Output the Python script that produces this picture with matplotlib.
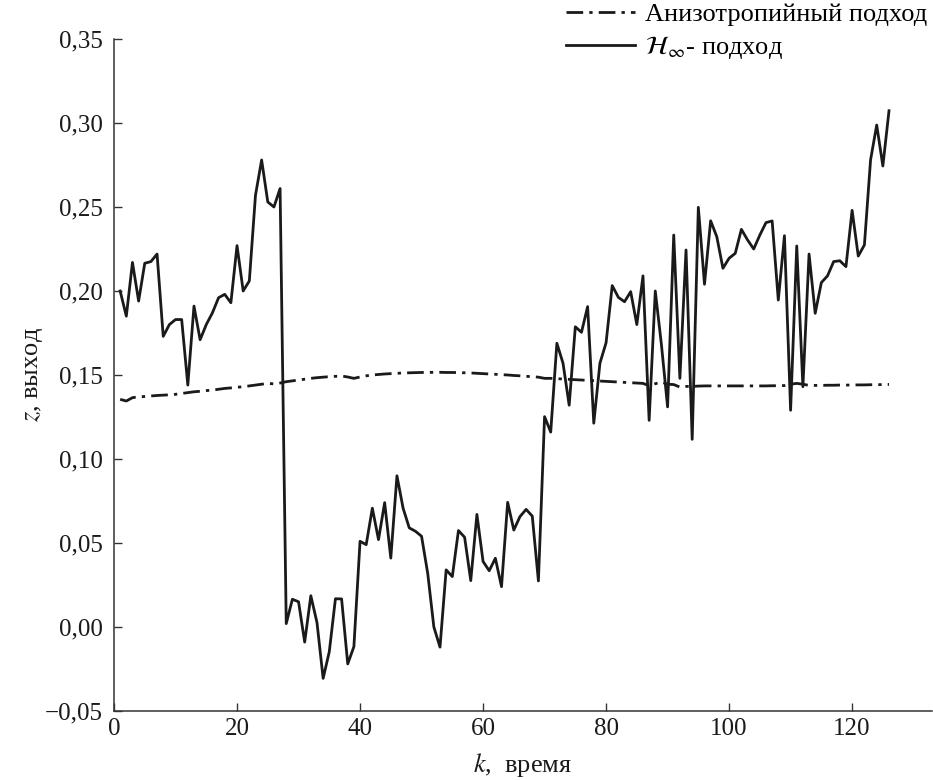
import matplotlib
matplotlib.use("Agg")
import matplotlib.pyplot as plt
import numpy as np

plt.rcParams['font.family'] = ['Liberation Serif', 'DejaVu Serif']
plt.rcParams['mathtext.fontset'] = 'stix'

# H-infinity approach output, k = 1..126
h_inf = [0.200, 0.185, 0.217, 0.194, 0.2165, 0.2175, 0.222, 0.173, 0.180, 0.183,
         0.183, 0.144, 0.191, 0.171, 0.180, 0.187, 0.196, 0.198, 0.193, 0.227,
         0.200, 0.206, 0.257, 0.278, 0.253, 0.250, 0.261, 0.002, 0.0165, 0.015,
         -0.009, 0.0186, 0.0026, -0.0306, -0.0147, 0.0168, 0.0167, -0.022, -0.0117, 0.051,
         0.049, 0.0707, 0.052, 0.074, 0.041, 0.090, 0.0707, 0.059, 0.057, 0.054,
         0.032, 0.000, -0.012, 0.034, 0.030, 0.0574, 0.0534, 0.0276, 0.067, 0.039,
         0.0335, 0.0409, 0.024, 0.0742, 0.0577, 0.0657, 0.070, 0.066, 0.0274, 0.1252,
         0.116, 0.1689, 0.157, 0.132, 0.1787, 0.1754, 0.1907, 0.1213, 0.157, 0.1692,
         0.2032, 0.1962, 0.1936, 0.1996, 0.180, 0.209, 0.123, 0.200, 0.168, 0.131,
         0.2333, 0.148, 0.2244, 0.1117, 0.2498, 0.204, 0.2418, 0.2323, 0.2135, 0.2195,
         0.2224, 0.2367, 0.2304, 0.225, 0.2333, 0.2407, 0.2417, 0.1946, 0.2329, 0.129,
         0.2268, 0.143, 0.222, 0.1867, 0.205, 0.209, 0.2175, 0.218, 0.2145, 0.248,
         0.2208, 0.2274, 0.278, 0.2988, 0.2744, 0.3073]

# anisotropy-based approach output, k = 1..126
aniso = [0.1355, 0.1345, 0.1365, 0.137, 0.1372, 0.1375, 0.1378, 0.138, 0.1382, 0.1385,
         0.139, 0.1395, 0.140, 0.1403, 0.1407, 0.141, 0.1415, 0.142, 0.1423, 0.1427,
         0.143, 0.1435, 0.144, 0.1445, 0.145, 0.1447, 0.1452, 0.146, 0.1465, 0.147,
         0.1475, 0.148, 0.1484, 0.1487, 0.149, 0.1492, 0.1494, 0.1488, 0.148, 0.1488,
         0.1495, 0.150, 0.1503, 0.1506, 0.1508, 0.151, 0.1512, 0.1513, 0.1514, 0.1515,
         0.1515, 0.1516, 0.1516, 0.1515, 0.1515, 0.1514, 0.1513, 0.1512, 0.151, 0.1508,
         0.1506, 0.1504, 0.1502, 0.150, 0.1497, 0.1495, 0.1492, 0.149, 0.1487, 0.148,
         0.148, 0.1478, 0.1476, 0.1474, 0.1472, 0.147, 0.1468, 0.1466, 0.1464, 0.1462,
         0.146, 0.1458, 0.1456, 0.1454, 0.1452, 0.145, 0.1436, 0.1448, 0.1458, 0.1445,
         0.1443, 0.1428, 0.1432, 0.1432, 0.1434, 0.1435, 0.1435, 0.1435, 0.1435, 0.1435,
         0.1435, 0.1435, 0.1435, 0.1435, 0.1435, 0.1435, 0.1436, 0.1436, 0.1437, 0.1445,
         0.145, 0.1445, 0.1438, 0.1438, 0.1438, 0.1439, 0.1439, 0.144, 0.144, 0.144,
         0.1441, 0.1441, 0.1442, 0.1442, 0.1443, 0.1444]

k = np.arange(1, len(h_inf) + 1)

y_ticks = [-0.05, 0.0, 0.05, 0.10, 0.15, 0.20, 0.25, 0.30, 0.35]
y_tick_labels = ['\u22120,05', '0,00', '0,05', '0,10', '0,15', '0,20', '0,25', '0,30', '0,35']
x_ticks = [0, 20, 40, 60, 80, 100, 120]

fig = plt.figure(figsize=(9.33, 7.8), dpi=100)
ax = fig.add_axes([0.1222, 0.0885, 0.8768, 0.8615])

line_a, = ax.plot(k, aniso, color='#1a1a1a', lw=2.0, linestyle=(0, (6, 2.2, 1.2, 2.2)))
line_h, = ax.plot(k, h_inf, color='#1a1a1a', lw=2.0)

ax.set_xlim(0, 133)
ax.set_ylim(-0.05, 0.35)
ax.set_xticks(x_ticks)
ax.set_xticklabels([str(t) for t in x_ticks])
ax.set_yticks(y_ticks)
ax.set_yticklabels(y_tick_labels)

for s in ['top', 'right']:
    ax.spines[s].set_visible(False)
for s in ['left', 'bottom']:
    ax.spines[s].set_linewidth(1.1)
    ax.spines[s].set_color('#333333')

ax.tick_params(axis='both', direction='in', length=6, width=1.0, color='#333333',
               labelsize=18, labelcolor='#1a1a1a')
ax.tick_params(axis='y', pad=8)
ax.tick_params(axis='x', pad=5)

ax.set_xlabel(r'$k$,  время', fontsize=19, color='#1a1a1a', labelpad=8)
ax.set_ylabel(r'$z$, выход', fontsize=19, color='#1a1a1a', labelpad=0)

fig.legend([line_a, line_h], ['Анизотропийный подход', r'$\mathcal{H}_\infty$- подход'],
           loc='upper right', bbox_to_anchor=(0.997, 1.0), frameon=False,
           fontsize=19, handlelength=2.6, handletextpad=0.4, labelspacing=0.3,
           borderaxespad=0.0, borderpad=0.1)

fig.savefig('out.png', dpi=100)
